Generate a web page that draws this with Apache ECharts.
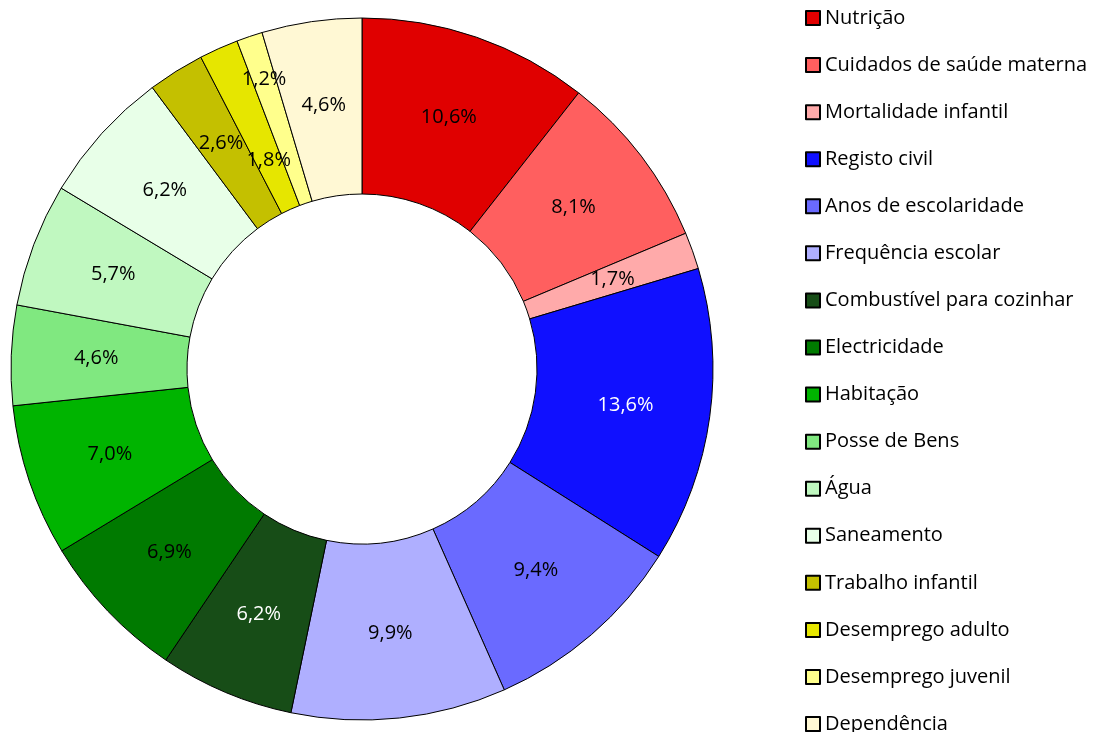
<!DOCTYPE html>
<html>
<head>
<meta charset="utf-8">
<script src="https://cdn.jsdelivr.net/npm/echarts@6/dist/echarts.min.js"></script>
<style>
  html, body { margin: 0; padding: 0; background: #fff; }
  #chart { width: 1099px; height: 732px; }
</style>
</head>
<body>
<div id="chart"></div>
<script>
const categories = [
  'Nutrição', 'Cuidados de saúde materna', 'Mortalidade infantil', 'Registo civil',
  'Anos de escolaridade', 'Frequência escolar', 'Combustível para cozinhar',
  'Electricidade', 'Habitação', 'Posse de Bens', 'Água', 'Saneamento',
  'Trabalho infantil', 'Desemprego adulto', 'Desemprego juvenil', 'Dependência'
]
const shares = [10.6, 8.1, 1.7, 13.6, 9.4, 9.9, 6.2, 6.9, 7.0, 4.6, 5.7, 6.2, 2.6, 1.8, 1.2, 4.6]
const colors = [
  '#e00000', '#ff5f5f', '#ffaaaa', '#1010ff', '#6a6aff', '#afafff', '#174d17',
  '#007a00', '#00b400', '#80e880', '#c0f8c0', '#e8ffe8', '#c4c000', '#e6e600',
  '#ffff8c', '#fff8d4'
]
const whiteLabels = ['Registo civil', 'Combustível para cozinhar']

const cx = 362, cy = 369
// small slices whose labels sit off the mid ring (radial scale)
const labelShift = { 13: 226 / 263, 14: 302 / 263 }

const chart = echarts.init(document.getElementById('chart'))

chart.setOption({
  animation: false,
  color: colors,
  legend: {
    orient: 'vertical',
    left: 805,
    top: 8,
    height: 900,
    padding: 0,
    itemWidth: 14,
    itemHeight: 14,
    itemGap: 27.07,
    icon: 'rect',
    textStyle: {
      fontFamily: 'Open Sans',
      fontSize: 20,
      lineHeight: 20,
      color: '#000'
    },
    data: categories
  },
  series: [{
    type: 'pie',
    center: [cx, cy],
    radius: [175, 351],
    startAngle: 90,
    clockwise: true,
    avoidLabelOverlap: false,
    itemStyle: {
      borderColor: '#000',
      borderWidth: 1
    },
    label: {
      show: true,
      position: 'inside',
      fontFamily: 'Open Sans',
      fontSize: 20,
      color: '#000',
      formatter: p => p.value.toFixed(1).replace('.', ',') + '%'
    },
    labelLayout: params => {
      const k = labelShift[params.dataIndex]
      if (!k) return {}
      const r = params.labelRect
      const mx = r.x + r.width / 2, my = r.y + r.height / 2
      return { x: cx + (mx - cx) * k, y: cy + (my - cy) * k }
    },
    emphasis: { disabled: true },
    data: categories.map((name, i) => ({
      name,
      value: shares[i],
      label: whiteLabels.includes(name) ? { color: '#fff' } : undefined
    }))
  }]
})
</script>
</body>
</html>
